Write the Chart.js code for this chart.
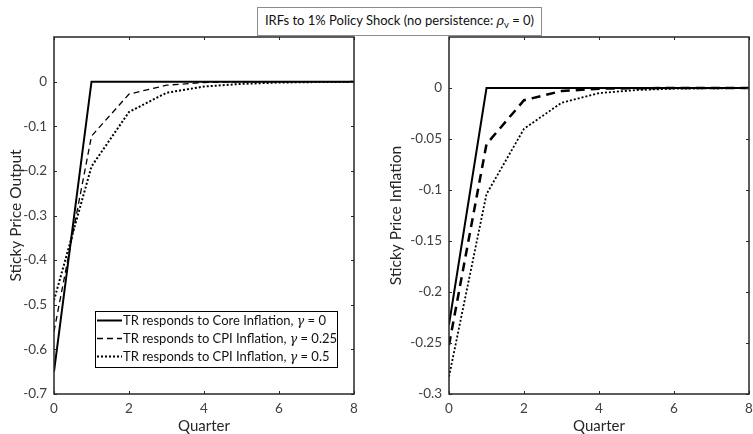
<!DOCTYPE html>
<html><head><meta charset="utf-8">
<script src="https://cdn.jsdelivr.net/npm/chart.js@4/dist/chart.umd.min.js"></script>
<style>
html,body{margin:0;padding:0;background:#fff;overflow:hidden;width:753px;height:434px;}
#c1{position:absolute;left:0;top:0;}
#c2{position:absolute;left:380px;top:0;}
#title{position:absolute;left:257px;top:7px;width:283px;height:27px;border:1px solid #8c8c8c;background:#fff;
 font-family:Lato,'Open Sans',sans-serif;font-size:13px;color:#111;line-height:25px;text-align:center;z-index:5;white-space:nowrap;}
#title i{font-family:'DejaVu Serif',serif;font-size:12.5px;}
#title sub{font-size:9.5px;vertical-align:-3px;line-height:0;}
</style></head>
<body>
<canvas id="c1" width="375" height="434"></canvas>
<canvas id="c2" width="373" height="434"></canvas>
<div id="title">IRFs to 1% Policy Shock (no persistence: <i>ρ</i><sub>v</sub> = 0)</div>
<script>
// ---- data ----
const quarters = [0, 1, 2, 3, 4, 5, 6, 7, 8];
const outputCore  = [-0.65, 0, 0, 0, 0, 0, 0, 0, 0];
const outputCpi25 = [-0.56, -0.122, -0.028, -0.008, -0.002, -0.0005, -0.0001, 0, 0];
const outputCpi50 = [-0.49, -0.19, -0.068, -0.025, -0.011, -0.005, -0.002, -0.001, -0.0005];
const inflCore  = [-0.232, 0, 0, 0, 0, 0, 0, 0, 0];
const inflCpi25 = [-0.252, -0.055, -0.012, -0.003, -0.0007, -0.0002, 0, 0, 0];
const inflCpi50 = [-0.283, -0.104, -0.04, -0.0145, -0.005, -0.002, -0.0007, -0.0003, -0.0001];
const seriesNames = ['TR responds to Core Inflation, ', 'TR responds to CPI Inflation, ', 'TR responds to CPI Inflation, '];
const gammaValues = ['0', '0.25', '0.5'];
const xTicks = [0, 2, 4, 6, 8];
const outputYTicks = [0, -0.1, -0.2, -0.3, -0.4, -0.5, -0.6, -0.7];
const inflYTicks = [0, -0.05, -0.1, -0.15, -0.2, -0.25, -0.3];

const FONT = "Lato, 'Open Sans', sans-serif";
const AX = '#262626';

function pts(arr){ return quarters.map((q,i)=>({x:q, y:arr[i]})); }
function fmt(v){ if (Math.abs(v) < 1e-9) return '0'; return String(+v.toFixed(2)); }

const framePlugin = {
  id: 'frame',
  afterDatasetsDraw(chart){
    const {ctx, chartArea:a, scales:{x, y}} = chart;
    ctx.save();
    ctx.strokeStyle = AX; ctx.lineWidth = 1.5;
    ctx.strokeRect(a.left, a.top, a.right - a.left, a.bottom - a.top);
    ctx.lineWidth = 1;
    ctx.beginPath();
    const L = 3;
    x.ticks.forEach(t => {
      const px = Math.round(x.getPixelForValue(t.value)) + 0.5;
      ctx.moveTo(px, a.bottom); ctx.lineTo(px, a.bottom - L);
      ctx.moveTo(px, a.top); ctx.lineTo(px, a.top + L);
    });
    y.ticks.forEach(t => {
      const py = Math.round(y.getPixelForValue(t.value)) + 0.5;
      ctx.moveTo(a.left, py); ctx.lineTo(a.left + L, py);
      ctx.moveTo(a.right, py); ctx.lineTo(a.right - L, py);
    });
    ctx.stroke();
    ctx.restore();
  }
};

const legendPlugin = {
  id: 'boxLegend',
  afterDraw(chart, args, opts){
    if (!opts.show) return;
    const ctx = chart.ctx;
    const bx = 95, by = 311, bw = 242, bh = 56;
    ctx.save();
    ctx.fillStyle = '#fff';
    ctx.fillRect(bx, by, bw, bh);
    ctx.strokeStyle = '#000'; ctx.lineWidth = 1;
    ctx.strokeRect(bx + 0.5, by + 0.5, bw, bh);
    chart.data.datasets.forEach((ds, i) => {
      const ry = by + 9.5 + i * 18;
      ctx.beginPath();
      ctx.setLineDash(ds.borderDash || []);
      ctx.lineWidth = ds.borderWidth;
      ctx.strokeStyle = ds.borderColor;
      ctx.moveTo(bx + 2, ry); ctx.lineTo(bx + 27, ry);
      ctx.stroke();
      ctx.setLineDash([]);
      ctx.fillStyle = '#111';
      ctx.textBaseline = 'middle';
      let tx = bx + 28;
      ctx.font = '13px ' + FONT;
      ctx.fillText(seriesNames[i], tx, ry);
      tx += ctx.measureText(seriesNames[i]).width;
      ctx.font = 'italic 12.5px "DejaVu Serif", serif';
      ctx.fillText('γ', tx, ry + 1);
      tx += ctx.measureText('γ').width;
      ctx.font = '13px ' + FONT;
      ctx.fillText(' = ' + gammaValues[i], tx, ry);
    });
    ctx.restore();
  }
};

function makeChart(id, series, widths, dashes, yMin, yMax, yTicks, yTitle, yAxisW, padRight, showLegend){
  return new Chart(document.getElementById(id), {
    type: 'line',
    data: {
      datasets: series.map((s, i) => ({
        data: pts(s),
        borderColor: '#000',
        borderWidth: widths[i],
        borderDash: dashes[i],
        pointRadius: 0,
        tension: 0,
        fill: false,
        borderCapStyle: 'butt'
      }))
    },
    options: {
      responsive: false,
      animation: false,
      events: [],
      layout: { padding: { left: 0, top: 37, right: padRight, bottom: 0 } },
      plugins: { legend: { display: false }, tooltip: { enabled: false }, boxLegend: { show: showLegend } },
      scales: {
        x: {
          type: 'linear', min: 0, max: 8,
          afterBuildTicks: s => { s.ticks = xTicks.map(v => ({value: v})); },
          afterFit: s => { s.height = 40; s.paddingLeft = 0; s.paddingRight = 0; },
          ticks: { color: '#404040', font: { family: FONT, size: 13.5 }, padding: 7, maxRotation: 0, callback: v => String(v) },
          grid: { display: false, drawTicks: false },
          border: { display: false },
          title: { display: true, text: 'Quarter', color: '#262626', font: { family: FONT, size: 15, lineHeight: 1 }, padding: 0 }
        },
        y: {
          type: 'linear', min: yMin, max: yMax,
          afterBuildTicks: s => { s.ticks = yTicks.map(v => ({value: v})); },
          afterFit: s => { s.width = yAxisW; s.paddingTop = 0; s.paddingBottom = 0; },
          ticks: { color: '#404040', font: { family: FONT, size: 13.5 }, padding: 7, callback: v => fmt(v) },
          grid: { display: false, drawTicks: false },
          border: { display: false },
          title: { display: true, text: yTitle, color: '#262626', font: { family: FONT, size: 15.5, lineHeight: 1 }, padding: { top: 8, bottom: 0 } }
        }
      }
    },
    plugins: [framePlugin, legendPlugin]
  });
}

makeChart('c1', [outputCore, outputCpi25, outputCpi50], [2, 1.3, 2], [[], [6, 4], [2, 2]],
  -0.7, 0.1, outputYTicks, 'Sticky Price Output', 54, 375 - 354, true);
makeChart('c2', [inflCore, inflCpi25, inflCpi50], [2, 2.5, 1.8], [[], [9, 6], [2, 2]],
  -0.3, 0.05, inflYTicks, 'Sticky Price Inflation', 69, 373 - 369, false);
</script>
</body></html>
